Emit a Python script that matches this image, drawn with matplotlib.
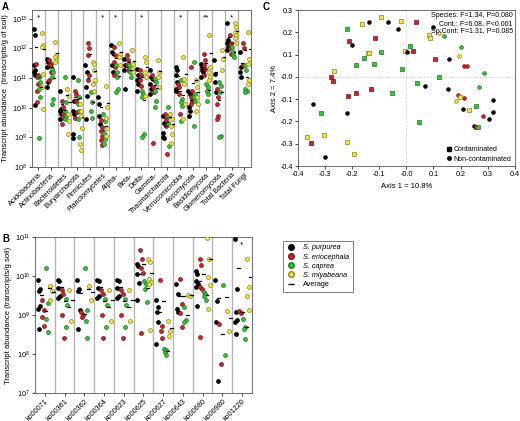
import numpy as np
import matplotlib.pyplot as plt
from matplotlib.lines import Line2D

plt.rcParams['font.family'] = ['Liberation Sans', 'DejaVu Sans']
plt.rcParams['mathtext.fontset'] = 'custom'
plt.rcParams['mathtext.rm'] = 'Liberation Sans'
plt.rcParams['mathtext.it'] = 'Liberation Sans:italic'

species = ['S. purpurea', 'S. eriocephala', 'S. caprea', 'S. miyabeana']
face = ['#000000', '#c3262c', '#3cbf3c', '#f0e64c']
edge = ['#000000', '#7c1515', '#207a20', '#8a8420']

# ---- panel A : log10(transcripts / g soil) ----
taxa = ['Acidobacteria', 'Actinobacteria', 'Bacteroidetes', 'Euryarchaeota', 'Firmicutes',
        'Planctomycetes', 'Alpha-', 'Beta-', 'Delta-', 'Gamma-', 'Thaumarchaeota',
        'Verrucomicrobia', 'Ascomycota', 'Basidiomycota', 'Glomeromycota',
        'Total Bacteria', 'Total Fungi']
a_stars = ['*', '', '', '', '', '*', '*', '', '*', '', '', '*', '', '**', '', '*', '']

a_purpurea = [
    [12.65, 12.45, 11.43, 11.26, 11.2, 11.09, 10.1],
    [11.66, 11.55, 11.38, 10.86, 10.69],
    [10.58, 9.95, 9.9, 9.78, 9.61],
    [11.03, 10.24, 9.9, 9.78, 9.1, 8.99],
    [11.43, 11.2, 10.69, 10.41, 9.61],
    [10.35, 10.12, 9.73, 9.44],
    [12.11, 11.89, 11.43, 11.2],
    [11.66, 11.43, 11.26, 10.64],
    [11.32, 11.09, 10.92, 10.8, 10.58],
    [11.26, 11.03, 10.8, 10.64, 10.47],
    [9.73, 9.5, 9.15, 8.99, 9.0],
    [11.38, 11.26, 11.09, 10.86, 10.64, 10.58],
    [10.58, 10.47, 10.01, 9.9, 9.73],
    [11.49, 11.38, 11.26, 11.2, 11.03],
    [11.6, 11.15, 10.86, 10.52],
    [12.85, 12.28, 12.17, 12.06, 11.94],
    [11.89, 11.38, 11.2, 11.03],
]
a_eriocephala = [
    [11.49, 11.09, 11.03, 10.8, 10.58, 10.18],
    [11.6, 11.49, 11.43, 11.2, 10.92],
    [10.24, 10.01, 9.78, 9.67, 9.44],
    [10.58, 10.47, 10.24, 9.84, 9.67],
    [12.17, 12.0, 11.77, 11.09, 10.92],
    [9.6, 9.35, 9.2, 9.05, 8.9, 8.75],
    [12.06, 11.77, 11.55, 11.38, 11.09],
    [11.77, 11.6, 11.43, 11.26],
    [11.26, 11.09, 10.92, 10.75],
    [11.09, 10.92, 10.69, 10.52, 8.8],
    [9.78, 9.61, 9.38, 8.44],
    [10.8, 10.69, 10.47, 9.78],
    [11.38, 10.58, 10.35, 10.24, 10.12],
    [11.83, 11.6, 11.43, 11.32, 11.09],
    [10.64, 10.35, 10.12, 9.73, 9.61],
    [12.45, 12.17, 12.0, 11.83],
    [12.17, 12.0, 11.43],
]
a_caprea = [
    [11.03, 10.86, 10.64, 10.35, 8.99],
    [11.32, 11.2, 11.03, 10.3, 10.12],
    [11.03, 10.18, 9.9, 9.73, 9.61],
    [10.92, 10.35, 10.12, 9.9, 9.61, 9.0],
    [10.52, 10.18, 9.9, 9.67],
    [9.78, 9.56, 9.15, 8.95, 8.78],
    [11.43, 11.2, 11.03, 10.64, 10.52],
    [11.43, 11.32, 11.2, 11.03],
    [10.58, 10.47, 10.35, 9.1, 9.0],
    [10.98, 10.86, 10.58, 10.24, 10.01],
    [10.01, 9.73, 9.5, 8.71],
    [10.92, 10.3, 10.18, 10.07, 9.56],
    [11.55, 10.47, 10.35, 10.24, 9.39],
    [10.8, 10.69, 10.58, 10.47, 10.24],
    [10.86, 10.75, 10.52, 9.04, 9.0],
    [12.06, 11.89, 11.77, 11.72],
    [11.43, 11.26, 10.64, 10.58, 10.52],
]
a_miyabeana = [
    [12.51, 12.11, 12.06, 11.15, 10.69, 9.95],
    [12.23, 11.77, 11.72, 11.6, 11.55],
    [10.64, 10.41, 9.78, 9.56, 9.1],
    [10.12, 9.9, 9.73, 9.33, 8.79, 8.57],
    [11.55, 11.49, 11.26, 10.92, 10.8, 10.58],
    [10.75, 10.01, 9.67, 9.33, 9.03],
    [12.17, 11.83, 11.72, 11.43],
    [11.94, 11.49, 11.32, 11.2],
    [11.72, 11.55, 11.2, 11.03, 10.41],
    [11.6, 11.2, 11.03, 10.69],
    [9.78, 9.61, 9.38, 9.1, 8.82],
    [11.72, 10.98, 10.8, 10.12, 9.61],
    [10.92, 10.69, 10.35, 10.12, 9.9],
    [12.45, 11.38, 11.2, 11.03, 10.92],
    [11.94, 11.66, 11.26],
    [12.85, 12.74, 12.57, 12.45, 12.34, 12.17],
    [12.57, 11.66, 11.49, 10.92, 10.8],
]

# ---- panel B : KEGG pathways ----
kos = ['ko00071', 'ko00361', 'ko00362', 'ko00364', 'ko00623', 'ko00625',
       'ko00627', 'ko00643', 'ko00680', 'ko00980', 'ko01220']
b_stars = ['', '', '', '', '', '', '', '', '', '', '*']

b_purpurea = [
    [9.89, 9.66, 9.61, 9.23, 9.16, 8.65],
    [9.91, 9.86, 9.68, 9.49, 9.44],
    [9.89, 9.66, 9.61, 9.14, 8.65],
    [9.91, 9.86, 9.68, 9.49, 9.44],
    [9.91, 9.86, 9.68, 9.49, 9.44],
    [10.3, 10.25, 10.04, 9.82, 9.38],
    [9.38, 9.21, 9.09, 8.82, 8.25],
    [9.8, 9.55, 9.15, 9.08],
    [10.12, 10.06, 9.86, 9.8, 9.72, 9.23],
    [9.89, 9.35, 8.82, 7.3],
    [10.94, 9.66, 9.08, 8.87, 8.81, 8.52],
]
b_eriocephala = [
    [9.38, 9.12, 8.95, 8.71],
    [9.63, 9.53, 9.01, 8.41],
    [9.08, 9.01, 8.95],
    [9.63, 9.53, 9.01, 8.41],
    [9.63, 9.53, 9.01, 8.41],
    [10.68, 10.43, 10.21, 10.09, 8.55],
    [9.89, 8.71, 8.59, 8.41],
    [9.93, 9.29, 9.06, 8.69],
    [10.43, 10.27, 9.72, 9.66, 8.44],
    [8.78, 7.75],
    [9.1, 9.05],
]
b_caprea = [
    [10.21, 9.32, 8.89, 8.56],
    [9.42, 9.26, 8.69],
    [10.21, 9.14, 8.84, 8.41],
    [9.42, 9.26, 8.69],
    [9.42, 9.26, 8.69],
    [9.86, 9.8, 9.66, 9.33],
    [8.14, 8.09, 8.05, 7.98],
    [9.21, 8.87, 8.81],
    [9.59, 9.55, 9.5, 9.38],
    [9.76, 7.98],
    [8.89, 8.69, 8.65, 8.38],
]
b_miyabeana = [
    [9.74, 9.61, 9.39],
    [9.63, 8.84],
    [9.74, 9.39],
    [9.63, 8.84],
    [9.63, 8.84],
    [10.43, 10.36, 9.93, 9.85, 9.8, 8.61],
    [8.84, 8.59, 8.46],
    [9.52, 9.49],
    [10.97, 10.44, 9.97, 9.76, 9.15],
    [9.1, 8.6],
    [10.44, 9.72, 9.5, 9.12],
]

# ---- panel C : PCoA ----
c_x = [-0.219, -0.162, -0.138, -0.094, -0.066, -0.021, -0.031, -0.211, -0.200, -0.114,
       -0.094, -0.142, -0.138, -0.156, -0.187, -0.121, -0.015, -0.266, -0.278, -0.272,
       -0.187, -0.216, -0.130, -0.053, -0.346, -0.316, -0.219, -0.366, -0.305, -0.351,
       -0.219, -0.299, -0.194,
       -0.005, 0.001, 0.014, 0.025, 0.036, 0.100, 0.084, 0.088, 0.120, 0.138, 0.106,
       0.158, 0.195, 0.201, 0.213, 0.225, 0.287, 0.040, 0.070, 0.119, 0.152, 0.190,
       0.213, 0.199, 0.183, 0.267, 0.321, 0.208, 0.231, 0.257, 0.321, 0.284, 0.305,
       0.046, 0.251, 0.257, 0.266]
c_y = [0.214, 0.238, 0.244, 0.270, 0.244, 0.249, 0.216, 0.161, 0.145, 0.173,
       0.113, 0.106, 0.109, 0.084, 0.054, 0.057, 0.035, 0.026, 0.000, -0.018,
       -0.072, -0.086, -0.053, -0.071, -0.122, -0.161, -0.164, -0.270, -0.262, -0.297,
       -0.291, -0.359, -0.348,
       0.116, 0.110, 0.139, 0.115, 0.244, 0.225, 0.189, 0.175, 0.195, 0.182, 0.080,
       0.080, 0.092, 0.134, 0.047, 0.047, 0.017, -0.029, -0.041, -0.002, -0.056, -0.080,
       -0.097, -0.090, -0.107, -0.047, -0.104, -0.145, -0.148, -0.131, -0.158, -0.175, -0.189,
       -0.201, -0.222, -0.223, -0.225]
c_sp = [2, 3, 0, 3, 0, 3, 0, 1, 0, 1,
        2, 3, 3, 2, 2, 2, 2, 3, 1, 1,
        1, 1, 1, 2, 0, 2, 0, 3, 3, 1,
        3, 0, 3,
        3, 0, 2, 1, 1, 0, 3, 3, 3, 2, 1,
        0, 3, 2, 1, 1, 2, 2, 0, 2, 0, 1,
        1, 3, 3, 2, 0, 0, 3, 2, 0, 1, 0,
        2, 0, 1, 2]
c_cont = [1, 1, 0, 1, 0, 1, 0, 1, 0, 1,
          1, 1, 1, 1, 1, 1, 1, 1, 1, 1,
          1, 1, 1, 1, 0, 1, 0, 1, 1, 1,
          1, 0, 1,
          1, 0, 1, 1, 1, 0, 1, 1, 0, 0, 1,
          0, 0, 0, 0, 0, 0, 1, 0, 1, 0, 0,
          0, 1, 0, 0, 0, 0, 1, 1, 0, 0, 0,
          1, 0, 1, 1]

offs = [0.2, 0.4, 0.6, 0.8]
jit = [-0.05, 0.04, -0.02, 0.06, -0.04, 0.02, 0.0]

fig = plt.figure(figsize=(5.2, 4.21), dpi=100)


def strip(ax, groups, labels, stars, ylo, yhi, ylabel):
    n = len(labels)
    for i in range(n):
        for s in range(4):
            v = np.array(groups[s][i])
            xs = [i + offs[s] + jit[k % len(jit)] for k in range(len(v))]
            ax.scatter(xs, 10 ** v, s=8, c=face[s], edgecolors=edge[s],
                       linewidths=0.5, zorder=3)
            ax.plot([i + offs[s] + 0.05, i + offs[s] + 0.2], [np.mean(10 ** v)] * 2,
                    color='black', lw=0.9, zorder=4)
        if i > 0:
            ax.axvline(i, color='#b5b5b5', lw=1.0, zorder=1)
        if stars[i]:
            ax.text(i + 0.5, 0.975, stars[i], transform=ax.get_xaxis_transform(),
                    ha='center', va='top', fontsize=6)
    ax.set_yscale('log')
    ax.set_ylim(ylo, yhi)
    ax.set_xlim(0, n)
    ax.set_xticks(np.arange(n) + 0.5)
    ax.set_xticklabels(labels, rotation=45, ha='right', rotation_mode='anchor', fontsize=5.2)
    ax.minorticks_off()
    ax.tick_params(axis='y', labelsize=5.2, length=2, width=0.5, pad=1.5)
    ax.tick_params(axis='x', length=2, width=0.5, pad=1.5)
    ax.set_ylabel(ylabel, fontsize=5.5, labelpad=2)
    for sp in ax.spines.values():
        sp.set_linewidth(0.6)
        sp.set_color('#555555')


axA = fig.add_axes([0.0615, 0.6033, 0.421, 0.373])
strip(axA, [a_purpurea, a_eriocephala, a_caprea, a_miyabeana], taxa, a_stars,
      1e8, 10 ** 13.3, 'Transcript abundance  (transcripts/g of soil)')

axB = fig.add_axes([0.0673, 0.0665, 0.417, 0.3705])
strip(axB, [b_purpurea, b_eriocephala, b_caprea, b_miyabeana], kos, b_stars,
      1e7, 1e11, 'Transcript abundance (transcripts/g soil)')

axC = fig.add_axes([0.573, 0.6057, 0.417, 0.3705])
for x, y, s, c in zip(c_x, c_y, c_sp, c_cont):
    axC.scatter(x, y, s=7, marker='s' if c else 'o', c=face[s], edgecolors=edge[s],
                linewidths=0.5, zorder=3)
axC.axhline(0, color='#bbbbbb', lw=0.6, ls=':', zorder=1)
axC.axvline(0, color='#bbbbbb', lw=0.6, ls=':', zorder=1)
axC.set_xlim(-0.4, 0.4)
axC.set_ylim(-0.4, 0.3)
axC.set_xticks(np.arange(-0.4, 0.41, 0.1))
axC.set_yticks(np.arange(-0.4, 0.31, 0.1))
axC.xaxis.set_major_formatter(plt.FormatStrFormatter('%.1f'))
axC.yaxis.set_major_formatter(plt.FormatStrFormatter('%.1f'))
axC.tick_params(labelsize=5.2, length=2, width=0.5, pad=1.5)
axC.set_xlabel('Axis 1 = 10.8%', fontsize=5.5, labelpad=4)
axC.set_ylabel('Axis 2 = 7.4%', fontsize=5.5, labelpad=2)
for sp in axC.spines.values():
    sp.set_linewidth(0.6)
    sp.set_color('#555555')
axC.text(0.99, 0.985, 'Species: F=1.34, P=0.080\nCont.: F=6.08, P<0.001\nSp:Cont: F=1.31, P=0.085',
         transform=axC.transAxes, ha='right', va='top', fontsize=5, linespacing=1.15)
cont_handles = [Line2D([], [], ls='', marker='s', color='black', markersize=2.5),
                Line2D([], [], ls='', marker='o', color='black', markersize=2.5)]
axC.legend(cont_handles, ['Contaminated', 'Non-contaminated'], loc='lower right',
           fontsize=5, frameon=False, handletextpad=0.3, borderaxespad=0.1,
           labelspacing=0.3, handlelength=0.8)

sp_handles = [Line2D([], [], ls='', marker='o', markerfacecolor=face[s],
                     markeredgecolor=edge[s], markersize=4) for s in range(4)]
sp_handles.append(Line2D([], [], ls='', marker='_', color='black', markersize=4))
leg = fig.legend(sp_handles, species + ['Average'], loc='upper left',
                 bbox_to_anchor=(0.538, 0.437), fontsize=5.2, frameon=True,
                 fancybox=False, edgecolor='#444444', handletextpad=1.0,
                 labelspacing=0.3, borderpad=0.5, handlelength=1.2)
leg.get_frame().set_linewidth(0.6)
for t in leg.get_texts()[:4]:
    t.set_style('italic')

fig.text(0.004, 0.995, 'A', fontsize=7, fontweight='bold', va='top')
fig.text(0.004, 0.445, 'B', fontsize=7, fontweight='bold', va='top')
fig.text(0.505, 0.995, 'C', fontsize=7, fontweight='bold', va='top')

fig.savefig('out.png', dpi=100)
